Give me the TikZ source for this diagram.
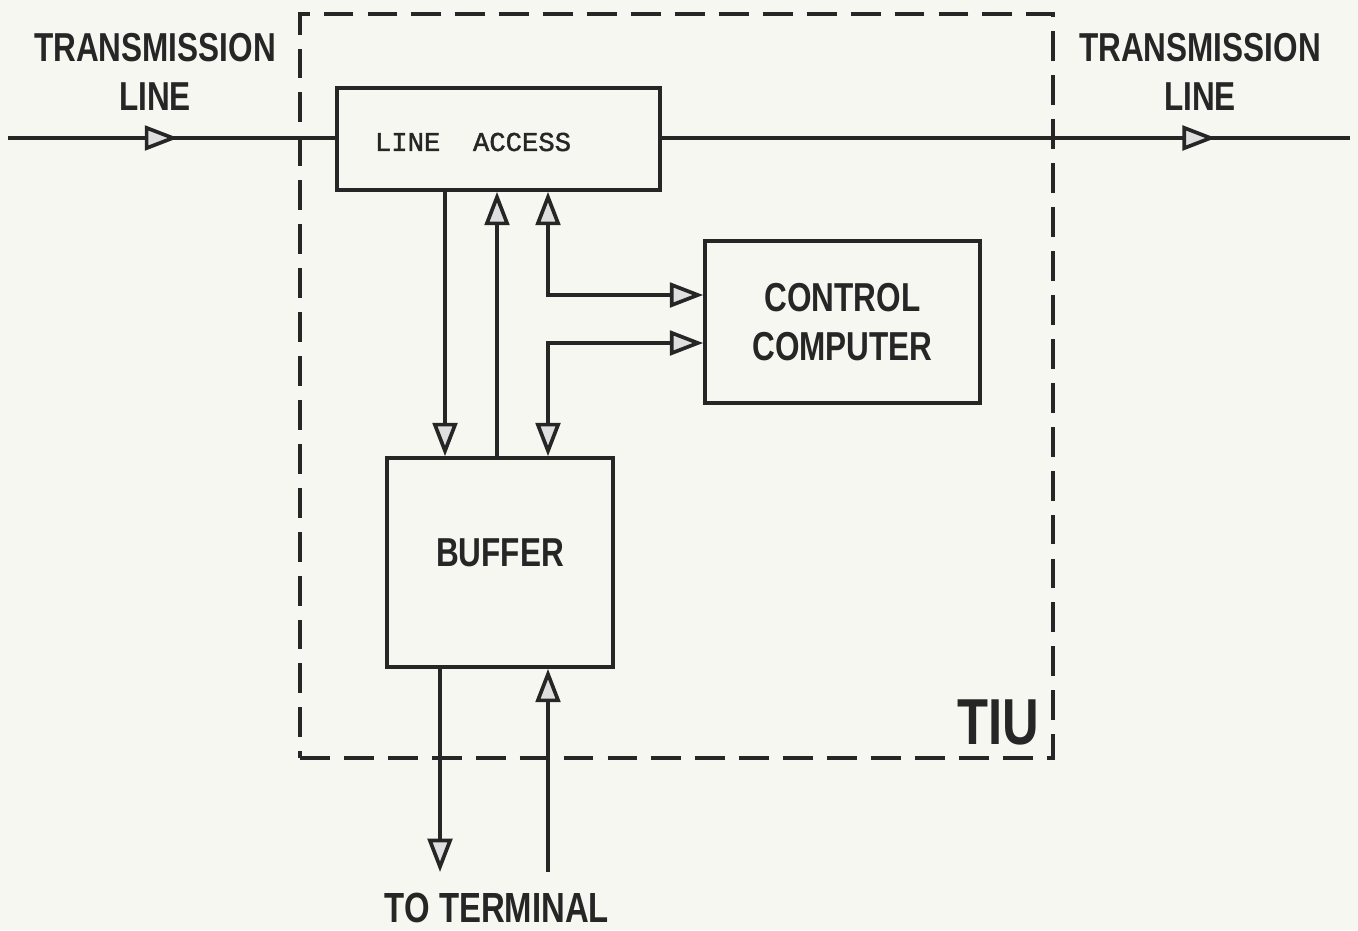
\documentclass[tikz,border=0pt]{standalone}
\usepackage{fontspec}
\newfontfamily\lettering[FakeStretch=0.78]{Liberation Sans}
\newfontfamily\typewriter[FakeBold=1.5]{Liberation Mono}
\usetikzlibrary{arrows.meta, decorations.markings}
\definecolor{paper}{RGB}{245,247,240}
\definecolor{ink}{RGB}{38,38,38}

\begin{document}
\begin{tikzpicture}[x=0.02cm, y=-0.02cm,
    >={Triangle[length=19pt, width=14pt, fill=gray!25]},
    line/.style={draw=ink, line width=2.1pt},
    box/.style={draw=ink, line width=2.1pt, inner sep=0pt},
    lettr/.style={text=ink, font=\lettering\bfseries\fontsize{23}{28}\selectfont, align=center},
    midtip/.style={postaction={decorate},
      decoration={markings, mark=at position #1 with {\arrow{>}}}}]
  % paper
  \fill[paper] (0,0) rectangle (1358,930);
  \useasboundingbox (0,0) rectangle (1358,930);

  % TIU boundary
  \node[draw=ink, line width=1.8pt, dash pattern=on 17pt off 8pt,
        minimum width=15.06cm, minimum height=14.88cm] (tiu) at (676.5,386) {};
  \node[lettr, font=\lettering\bfseries\fontsize{37}{40}\selectfont] (tiulbl) at (998,722) {TIU};

  % blocks
  \node[box, minimum width=6.46cm, minimum height=2.04cm] (acc) at (498.5,139) {};
  \node[text=ink, font=\typewriter\fontsize{15.5}{18}\selectfont] (acctext) at (473,142) {LINE\ \ ACCESS};
  \node[box, lettr, minimum width=5.5cm, minimum height=3.24cm] (cc) at (842.5,322) {CONTROL\\COMPUTER};
  \node[box, lettr, minimum width=4.52cm, minimum height=4.18cm, text depth=11pt] (buf) at (500,562.5) {BUFFER};

  % transmission line in and out
  \node[lettr] (tlin) at (155,72) {TRANSMISSION\\LINE};
  \node[lettr] (tlout) at (1200,72) {TRANSMISSION\\LINE};
  \coordinate (linein) at (8,138);
  \coordinate (lineout) at (1350,138);
  \draw[line, midtip=0.52] (linein) -- (acc.west |- linein);
  \draw[line, midtip=0.805] (acc.east |- lineout) -- (lineout);

  % columns and rows for the connectors
  \coordinate (c1) at (445,0);
  \coordinate (c2) at (497,0);
  \coordinate (c3) at (548,0);
  \coordinate (r1) at (0,295);
  \coordinate (r2) at (0,343);

  % line access <-> buffer <-> control computer
  \draw[line, ->] (acc.south -| c1) -- (buf.north -| c1);
  \draw[line, ->] (buf.north -| c2) -- (acc.south -| c2);
  \draw[line, <->] (acc.south -| c3) |- (cc.west |- r1);
  \draw[line, <->] (buf.north -| c3) |- (cc.west |- r2);

  % terminal side
  \coordinate (termout) at (440,872);
  \coordinate (termin) at (548,872);
  \draw[line, ->] (buf.south -| termout) -- (termout);
  \draw[line, ->] (termin) -- (buf.south -| termin);
  \node[lettr, font=\lettering\bfseries\fontsize{24}{28}\selectfont] (term) at (497,908) {TO TERMINAL};
\end{tikzpicture}
\end{document}
